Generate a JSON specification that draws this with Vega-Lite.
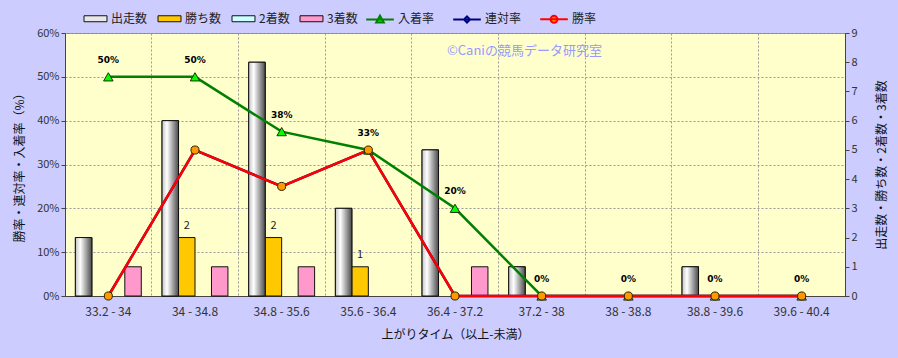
{
  "$schema": "https://vega.github.io/schema/vega-lite/v6.json",
  "width": 780,
  "height": 263,
  "autosize": {"type": "none"},
  "padding": {"left": 65, "top": 33, "right": 53, "bottom": 62},
  "background": "#CCCCFF",
  "config": {
    "view": {"fill": "#FFFFCC", "stroke": "#888888"},
    "font": "Noto Sans CJK JP",
    "axis": {"labelFont": "Noto Sans CJK JP", "titleFont": "Noto Sans CJK JP", "labelColor": "#333333", "titleColor": "#111111", "titleFontWeight": "normal", "labelFontSize": 11, "titleFontSize": 12, "domainColor": "#444444", "tickColor": "#444444"},
    "legend": {"labelFont": "Noto Sans CJK JP", "labelFontSize": 12, "labelColor": "#222222"}
  },
  "datasets": {
    "counts": [
      {"cat": "33.2 - 34", "series": "出走数", "value": 2},
      {"cat": "33.2 - 34", "series": "勝ち数", "value": 0},
      {"cat": "33.2 - 34", "series": "2着数", "value": 0},
      {"cat": "33.2 - 34", "series": "3着数", "value": 1},
      {"cat": "34 - 34.8", "series": "出走数", "value": 6},
      {"cat": "34 - 34.8", "series": "勝ち数", "value": 2},
      {"cat": "34 - 34.8", "series": "2着数", "value": 0},
      {"cat": "34 - 34.8", "series": "3着数", "value": 1},
      {"cat": "34.8 - 35.6", "series": "出走数", "value": 8},
      {"cat": "34.8 - 35.6", "series": "勝ち数", "value": 2},
      {"cat": "34.8 - 35.6", "series": "2着数", "value": 0},
      {"cat": "34.8 - 35.6", "series": "3着数", "value": 1},
      {"cat": "35.6 - 36.4", "series": "出走数", "value": 3},
      {"cat": "35.6 - 36.4", "series": "勝ち数", "value": 1},
      {"cat": "35.6 - 36.4", "series": "2着数", "value": 0},
      {"cat": "35.6 - 36.4", "series": "3着数", "value": 0},
      {"cat": "36.4 - 37.2", "series": "出走数", "value": 5},
      {"cat": "36.4 - 37.2", "series": "勝ち数", "value": 0},
      {"cat": "36.4 - 37.2", "series": "2着数", "value": 0},
      {"cat": "36.4 - 37.2", "series": "3着数", "value": 1},
      {"cat": "37.2 - 38", "series": "出走数", "value": 1},
      {"cat": "37.2 - 38", "series": "勝ち数", "value": 0},
      {"cat": "37.2 - 38", "series": "2着数", "value": 0},
      {"cat": "37.2 - 38", "series": "3着数", "value": 0},
      {"cat": "38 - 38.8", "series": "出走数", "value": 0},
      {"cat": "38 - 38.8", "series": "勝ち数", "value": 0},
      {"cat": "38 - 38.8", "series": "2着数", "value": 0},
      {"cat": "38 - 38.8", "series": "3着数", "value": 0},
      {"cat": "38.8 - 39.6", "series": "出走数", "value": 1},
      {"cat": "38.8 - 39.6", "series": "勝ち数", "value": 0},
      {"cat": "38.8 - 39.6", "series": "2着数", "value": 0},
      {"cat": "38.8 - 39.6", "series": "3着数", "value": 0},
      {"cat": "39.6 - 40.4", "series": "出走数", "value": 0},
      {"cat": "39.6 - 40.4", "series": "勝ち数", "value": 0},
      {"cat": "39.6 - 40.4", "series": "2着数", "value": 0},
      {"cat": "39.6 - 40.4", "series": "3着数", "value": 0}
    ],
    "rates": [
      {"cat": "33.2 - 34", "series": "入着率", "rate": 50, "label": "50%"},
      {"cat": "34 - 34.8", "series": "入着率", "rate": 50, "label": "50%"},
      {"cat": "34.8 - 35.6", "series": "入着率", "rate": 37.5, "label": "38%"},
      {"cat": "35.6 - 36.4", "series": "入着率", "rate": 33.3, "label": "33%"},
      {"cat": "36.4 - 37.2", "series": "入着率", "rate": 20, "label": "20%"},
      {"cat": "37.2 - 38", "series": "入着率", "rate": 0, "label": "0%"},
      {"cat": "38 - 38.8", "series": "入着率", "rate": 0, "label": "0%"},
      {"cat": "38.8 - 39.6", "series": "入着率", "rate": 0, "label": "0%"},
      {"cat": "39.6 - 40.4", "series": "入着率", "rate": 0, "label": "0%"},
      {"cat": "33.2 - 34", "series": "連対率", "rate": 0},
      {"cat": "34 - 34.8", "series": "連対率", "rate": 33.3},
      {"cat": "34.8 - 35.6", "series": "連対率", "rate": 25},
      {"cat": "35.6 - 36.4", "series": "連対率", "rate": 33.3},
      {"cat": "36.4 - 37.2", "series": "連対率", "rate": 0},
      {"cat": "37.2 - 38", "series": "連対率", "rate": 0},
      {"cat": "38 - 38.8", "series": "連対率", "rate": 0},
      {"cat": "38.8 - 39.6", "series": "連対率", "rate": 0},
      {"cat": "39.6 - 40.4", "series": "連対率", "rate": 0},
      {"cat": "33.2 - 34", "series": "勝率", "rate": 0},
      {"cat": "34 - 34.8", "series": "勝率", "rate": 33.3},
      {"cat": "34.8 - 35.6", "series": "勝率", "rate": 25},
      {"cat": "35.6 - 36.4", "series": "勝率", "rate": 33.3},
      {"cat": "36.4 - 37.2", "series": "勝率", "rate": 0},
      {"cat": "37.2 - 38", "series": "勝率", "rate": 0},
      {"cat": "38 - 38.8", "series": "勝率", "rate": 0},
      {"cat": "38.8 - 39.6", "series": "勝率", "rate": 0},
      {"cat": "39.6 - 40.4", "series": "勝率", "rate": 0}
    ]
  },
  "layer": [
    {
      "data": {"name": "counts"},
      "layer": [
        {
          "transform": [{"filter": "datum.value > 0"}],
          "mark": {"type": "bar", "stroke": "#111111", "strokeWidth": 1},
          "encoding": {
            "x": {"field": "cat", "type": "nominal", "scale": {"domain": ["33.2 - 34", "34 - 34.8", "34.8 - 35.6", "35.6 - 36.4", "36.4 - 37.2", "37.2 - 38", "38 - 38.8", "38.8 - 39.6", "39.6 - 40.4"], "paddingInner": 0, "paddingOuter": 0}, "axis": {"title": "上がりタイム（以上-未満）", "bandPosition": 0, "labelOffset": 0, "labelAngle": 0, "ticks": false, "labelPadding": 10, "titlePadding": 12, "grid": true, "gridDash": [2, 2], "gridColor": "#999999", "labelFontSize": 12}},
            "xOffset": {"field": "series", "type": "nominal", "scale": {"domain": ["出走数", "勝ち数", "2着数", "3着数"], "paddingInner": 0, "paddingOuter": 0.63}},
            "y": {"field": "value", "type": "quantitative", "scale": {"domain": [0, 9]}, "axis": {"orient": "right", "title": "出走数・勝ち数・2着数・3着数", "titleAngle": -90, "values": [0, 1, 2, 3, 4, 5, 6, 7, 8, 9], "grid": false, "tickSize": 4, "titlePadding": 31, "labelFontSize": 11}},
            "color": {"field": "series", "type": "nominal", "scale": {"domain": ["出走数", "勝ち数", "2着数", "3着数"], "range": ["#E8E8E8", "#FFC800", "#CCFFFF", "#FF99CC"]}, "legend": {"orient": "none", "legendX": 22, "legendY": -23, "direction": "horizontal", "columns": 4, "title": null, "symbolType": "M-1.5,-0.39H1.5V0.39H-1.5Z", "symbolSize": 235, "symbolStrokeColor": "#111111", "symbolStrokeWidth": 1, "labelOffset": 7, "columnPadding": 8, "encode": {"symbols": {"update": {
              "fill": {"signal": "datum.value === '出走数' ? {gradient: 'linear', x1: 0, y1: 0, x2: 1, y2: 0, stops: [{offset: 0, color: '#c4c4c4'}, {offset: 0.3, color: '#ffffff'}, {offset: 1, color: '#4a4a4a'}]} : datum.value === '2着数' ? {gradient: 'linear', x1: 0, y1: 0, x2: 1, y2: 0, stops: [{offset: 0, color: '#a8e8e8'}, {offset: 0.3, color: '#f4ffff'}, {offset: 1, color: '#5a9c9c'}]} : datum.value === '勝ち数' ? '#FFC800' : '#FF99CC'"},
              "stroke": {"value": "#111111"},
              "strokeWidth": {"value": 1}
            }}}}}
          }
        },
        {
          "transform": [{"filter": "datum.value > 0 && datum.series === '出走数'"}],
          "mark": {"type": "bar", "stroke": "#111111", "strokeWidth": 1, "fill": {"gradient": "linear", "x1": 0, "y1": 0, "x2": 1, "y2": 0, "stops": [{"offset": 0, "color": "#c4c4c4"}, {"offset": 0.3, "color": "#ffffff"}, {"offset": 1, "color": "#4a4a4a"}]}},
          "encoding": {
            "x": {"field": "cat", "type": "nominal"},
            "xOffset": {"field": "series", "type": "nominal"},
            "y": {"field": "value", "type": "quantitative", "axis": {"orient": "right", "title": "出走数・勝ち数・2着数・3着数", "titleAngle": -90, "values": [0, 1, 2, 3, 4, 5, 6, 7, 8, 9], "grid": false, "tickSize": 4, "titlePadding": 31, "labelFontSize": 11}}
          }
        },
        {
          "transform": [{"filter": "datum.value > 0 && datum.series === '2着数'"}],
          "mark": {"type": "bar", "stroke": "#111111", "strokeWidth": 1, "fill": {"gradient": "linear", "x1": 0, "y1": 0, "x2": 1, "y2": 0, "stops": [{"offset": 0, "color": "#a8e8e8"}, {"offset": 0.3, "color": "#f4ffff"}, {"offset": 1, "color": "#5a9c9c"}]}},
          "encoding": {
            "x": {"field": "cat", "type": "nominal"},
            "xOffset": {"field": "series", "type": "nominal"},
            "y": {"field": "value", "type": "quantitative", "axis": {"orient": "right", "title": "出走数・勝ち数・2着数・3着数", "titleAngle": -90, "values": [0, 1, 2, 3, 4, 5, 6, 7, 8, 9], "grid": false, "tickSize": 4, "titlePadding": 31, "labelFontSize": 11}}
          }
        },
        {
          "transform": [{"filter": "datum.series === '勝ち数' && datum.value > 0"}],
          "mark": {"type": "text", "dy": -12, "fontSize": 11, "color": "#222222"},
          "encoding": {
            "x": {"field": "cat", "type": "nominal"},
            "xOffset": {"field": "series", "type": "nominal"},
            "y": {"field": "value", "type": "quantitative", "axis": {"orient": "right", "title": "出走数・勝ち数・2着数・3着数", "titleAngle": -90, "values": [0, 1, 2, 3, 4, 5, 6, 7, 8, 9], "grid": false, "tickSize": 4, "titlePadding": 31, "labelFontSize": 11}},
            "text": {"field": "value", "type": "quantitative"}
          }
        }
      ]
    },
    {
      "data": {"name": "rates"},
      "layer": [
        {
          "transform": [{"filter": "datum.series === '入着率'"}],
          "mark": {"type": "line", "strokeWidth": 2.5},
          "encoding": {
            "x": {"field": "cat", "type": "nominal"},
            "y": {"field": "rate", "type": "quantitative", "scale": {"domain": [0, 60]}, "axis": {"title": "勝率・連対率・入着率（%）", "values": [0, 10, 20, 30, 40, 50, 60], "labelExpr": "datum.value + '%'", "grid": true, "gridDash": [2, 2], "gridColor": "#999999", "tickSize": 4, "titlePadding": 10, "labelFontSize": 11}},
            "stroke": {"field": "series", "type": "nominal", "scale": {"domain": ["入着率", "連対率", "勝率"], "range": ["#008000", "#000080", "#FF0000"]}, "legend": {"orient": "none", "legendX": 306, "legendY": -23, "direction": "horizontal", "columns": 3, "title": null, "symbolSize": 235, "symbolStrokeWidth": 2, "labelOffset": 9, "columnPadding": 14, "encode": {"symbols": {"update": {
              "shape": {"signal": "datum.value === '入着率' ? 'M-1.8,0H1.8M0,-0.5L0.5,0.4L-0.5,0.4Z' : datum.value === '連対率' ? 'M-1.8,0H1.8M0,-0.4L0.4,0L0,0.4L-0.4,0Z' : 'M-1.8,0H1.8M-0.45,0A0.45,0.45,0,1,0,0.45,0A0.45,0.45,0,1,0,-0.45,0Z'"},
              "fill": {"signal": "datum.value === '入着率' ? '#00FF00' : datum.value === '連対率' ? '#00FFFF' : '#FF9900'"},
              "strokeWidth": {"value": 2}
            }}}}}
          }
        },
        {
          "transform": [{"filter": "datum.series === '連対率'"}],
          "mark": {"type": "line", "strokeWidth": 2.5},
          "encoding": {
            "x": {"field": "cat", "type": "nominal"},
            "y": {"field": "rate", "type": "quantitative"},
            "stroke": {"field": "series", "type": "nominal"}
          }
        },
        {
          "transform": [{"filter": "datum.series === '勝率'"}],
          "mark": {"type": "line", "strokeWidth": 2.5},
          "encoding": {
            "x": {"field": "cat", "type": "nominal"},
            "y": {"field": "rate", "type": "quantitative"},
            "stroke": {"field": "series", "type": "nominal"}
          }
        },
        {
          "transform": [{"filter": "datum.series === '入着率'"}],
          "mark": {"type": "point", "shape": "triangle-up", "size": 90, "filled": true, "fill": "#00FF00", "stroke": "#1a3300", "strokeWidth": 1, "opacity": 1},
          "encoding": {
            "x": {"field": "cat", "type": "nominal"},
            "y": {"field": "rate", "type": "quantitative"}
          }
        },
        {
          "transform": [{"filter": "datum.series === '連対率'"}],
          "mark": {"type": "point", "shape": "diamond", "size": 30, "filled": true, "fill": "#00FFFF", "stroke": "#000033", "strokeWidth": 1, "opacity": 1},
          "encoding": {
            "x": {"field": "cat", "type": "nominal"},
            "y": {"field": "rate", "type": "quantitative"}
          }
        },
        {
          "transform": [{"filter": "datum.series === '勝率'"}],
          "mark": {"type": "point", "shape": "circle", "size": 65, "filled": true, "fill": "#FF9900", "stroke": "#332200", "strokeWidth": 1, "opacity": 1},
          "encoding": {
            "x": {"field": "cat", "type": "nominal"},
            "y": {"field": "rate", "type": "quantitative"}
          }
        },
        {
          "transform": [{"filter": "datum.series === '入着率'"}],
          "mark": {"type": "text", "dy": -17, "fontSize": 9, "fontWeight": "bold", "font": "DejaVu Sans", "color": "#000000"},
          "encoding": {
            "x": {"field": "cat", "type": "nominal"},
            "y": {"field": "rate", "type": "quantitative"},
            "text": {"field": "label", "type": "nominal"}
          }
        },
        {
          "data": {"values": [{"cat": "36.4 - 37.2", "pos": 56, "t": "©Caniの競馬データ研究室"}]},
          "mark": {"type": "text", "align": "left", "dx": -8, "fontSize": 13, "color": "#9999FF"},
          "encoding": {
            "x": {"field": "cat", "type": "nominal"},
            "y": {"field": "pos", "type": "quantitative"},
            "text": {"field": "t", "type": "nominal"}
          }
        }
      ]
    }
  ],
  "resolve": {"scale": {"y": "independent"}}
}
